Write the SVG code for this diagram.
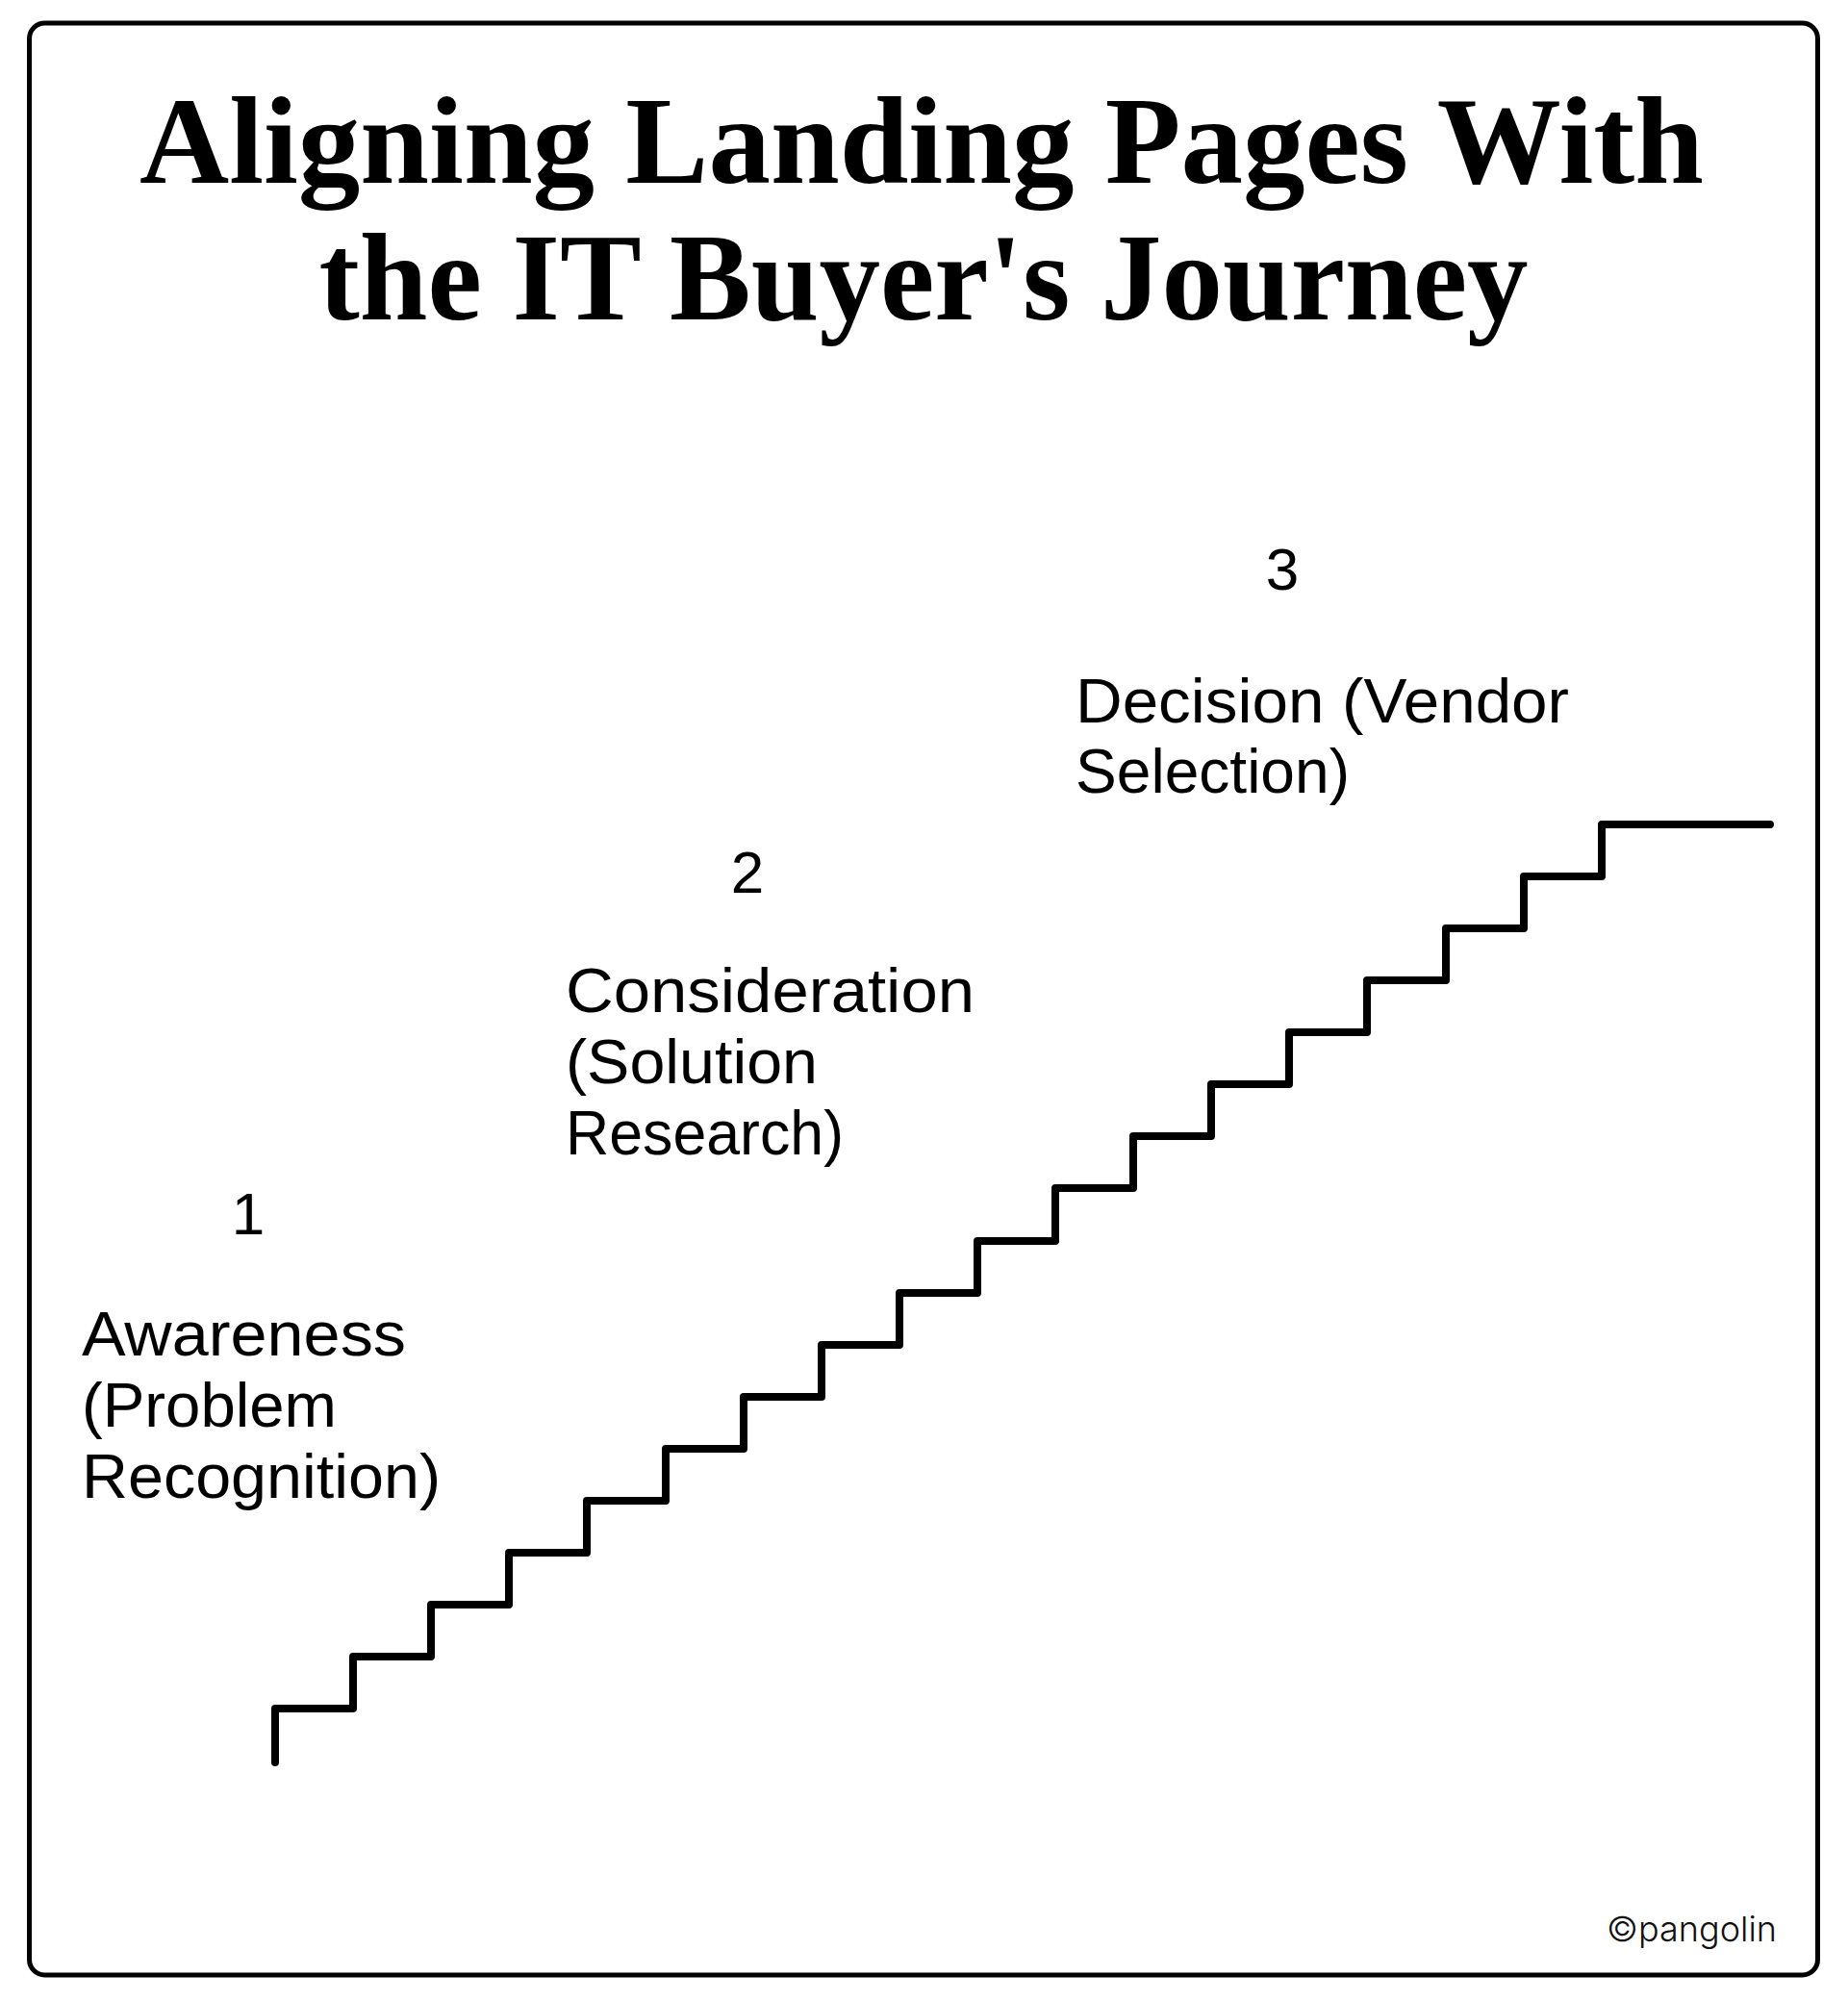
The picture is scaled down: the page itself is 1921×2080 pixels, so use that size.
<svg xmlns="http://www.w3.org/2000/svg" width="1921" height="2080" viewBox="0 0 1921 2080">
  <style>
    .title { font-family: "Liberation Serif", "Times New Roman", serif; font-weight: bold; font-size: 129px; fill: #000; }
    .hand { font-family: "Liberation Sans", Arial, sans-serif; font-size: 64px; fill: #000; }
    .num { font-family: "Liberation Sans", Arial, sans-serif; font-size: 62px; fill: #000; text-anchor: middle; }
    .credit { font-family: Inter, "Liberation Sans", sans-serif; font-weight: 300; font-size: 36px; fill: #111; text-anchor: end; }
    .stair { fill: none; stroke: #000; stroke-width: 8; stroke-linecap: round; stroke-linejoin: round; }
  </style>
  <rect width="1921" height="2080" fill="#fff"/>
  <g id="frame">
    <rect x="30.5" y="24" width="1859" height="2029" rx="16" ry="16" fill="#fff" stroke="#000" stroke-width="5"/>
  </g>
  <g id="title">
    <text class="title" x="958" y="190" text-anchor="middle" textLength="1626" lengthAdjust="spacingAndGlyphs">Aligning Landing Pages With</text>
    <text class="title" x="960" y="332" text-anchor="middle" textLength="1257" lengthAdjust="spacingAndGlyphs">the IT Buyer's Journey</text>
  </g>
  <g id="staircase">
    <path class="stair" d="M286 1832 V1776 H367 V1722 H448 V1668 H529 V1614 H610 V1560 H692 V1506 H773 V1452 H854 V1398 H935 V1344 H1016 V1290 H1097 V1235 H1178 V1181 H1259 V1127 H1340 V1073 H1421 V1019 H1503 V965 H1584 V911 H1665 V857 H1840"/>
  </g>
  <g id="stage-1">
    <text class="num" x="258" y="1283">1</text>
    <text class="hand" x="85" y="1409" textLength="337" lengthAdjust="spacingAndGlyphs">Awareness</text>
    <text class="hand" x="85" y="1483" textLength="265" lengthAdjust="spacingAndGlyphs">(Problem</text>
    <text class="hand" x="85" y="1557" textLength="373" lengthAdjust="spacingAndGlyphs">Recognition)</text>
  </g>
  <g id="stage-2">
    <text class="num" x="777" y="928">2</text>
    <text class="hand" x="588" y="1052" textLength="425" lengthAdjust="spacingAndGlyphs">Consideration</text>
    <text class="hand" x="588" y="1126" textLength="262" lengthAdjust="spacingAndGlyphs">(Solution</text>
    <text class="hand" x="588" y="1200" textLength="289" lengthAdjust="spacingAndGlyphs">Research)</text>
  </g>
  <g id="stage-3">
    <text class="num" x="1333" y="613">3</text>
    <text class="hand" x="1118" y="751" textLength="513" lengthAdjust="spacingAndGlyphs">Decision (Vendor</text>
    <text class="hand" x="1118" y="824" textLength="285" lengthAdjust="spacingAndGlyphs">Selection)</text>
  </g>
  <g id="credit">
    <text class="credit" x="1847" y="2018">©pangolin</text>
  </g>
  <g id="connectors"/>
</svg>
